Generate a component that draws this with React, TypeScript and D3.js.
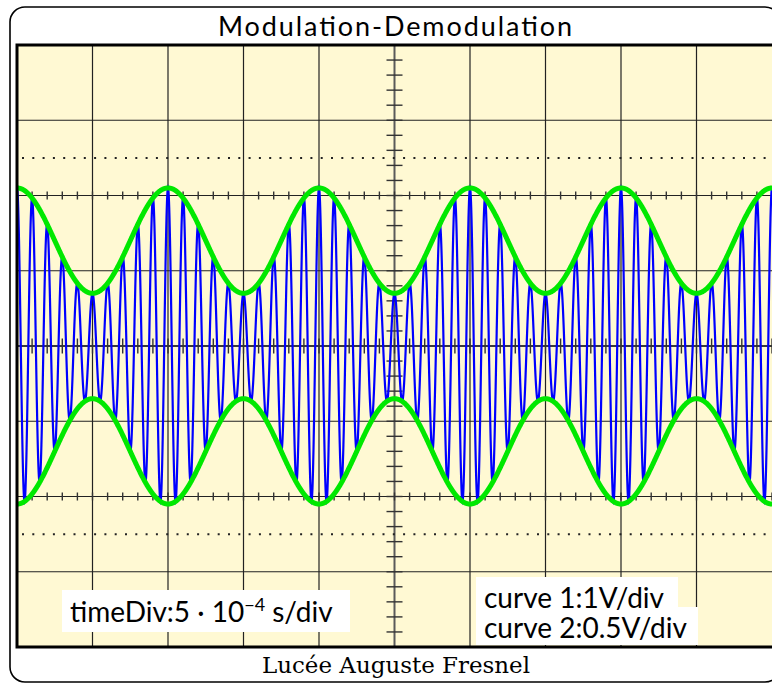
import React, { useEffect, useRef } from "react";
import * as d3 from "d3";

// ---- chart values ----
const title = ["Modulation-Demodulation"];
const footer = ["Lucée Auguste Fresnel"];
const timeDiv = [5e-4]; // s/div
const divisionsX = [10];
const divisionsY = [8];
const voltsPerDiv = [1, 0.5]; // curve 1, curve 2
const carrierAmplitude = [1.4]; // V
const modulationAmplitude = [0.7]; // V
const carrierFreq = [10000]; // Hz
const modulatingFreq = [1000]; // Hz
const infoLabels = ["curve 1:1V/div", "curve 2:0.5V/div"];

const W = 772;
const H = 684;
const PL = 17, PR = 772, PT = 45, PB = 647;

export default function App() {
  const ref = useRef<SVGSVGElement>(null);
  useEffect(() => {
    const svg = d3.select(ref.current);
    svg.selectAll("*").remove();
    const T = divisionsX[0] * timeDiv[0];
    const x = d3.scaleLinear().domain([0, T]).range([PL, PR]);
    const y1 = d3.scaleLinear().domain([-voltsPerDiv[0] * divisionsY[0] / 2, voltsPerDiv[0] * divisionsY[0] / 2]).range([PB, PT]);
    const y2 = d3.scaleLinear().domain([-voltsPerDiv[1] * divisionsY[0] / 2, voltsPerDiv[1] * divisionsY[0] / 2]).range([PB, PT]);
    const divX = (PR - PL) / divisionsX[0];
    const divY = (PB - PT) / divisionsY[0];
    const cx = x(T / 2);
    const cy = y1(0);

    // outer frame
    svg.append("rect").attr("x", 10).attr("y", 7).attr("width", 770).attr("height", 675)
      .attr("rx", 15).attr("ry", 15).attr("fill", "white").attr("stroke", "black").attr("stroke-width", 1.6);

    svg.append("text").attr("x", 218).attr("y", 36)
      .attr("font-family", "Lato, 'Open Sans', sans-serif").attr("font-size", 27).attr("fill", "black")
      .attr("textLength", 354).attr("lengthAdjust", "spacing")
      .text(title[0]);
    svg.append("text").attr("x", 262).attr("y", 673)
      .attr("font-family", "'DejaVu Serif', 'Liberation Serif', serif").attr("font-size", 22).attr("fill", "black")
      .attr("textLength", 268).attr("lengthAdjust", "spacingAndGlyphs")
      .text(footer[0]);

    const defs = svg.append("defs");
    defs.append("clipPath").attr("id", "plotclip").append("rect")
      .attr("x", PL).attr("y", PT).attr("width", PR - PL).attr("height", PB - PT);

    svg.append("rect").attr("x", PL).attr("y", PT).attr("width", PR - PL).attr("height", PB - PT)
      .attr("fill", "#FFF9D3");

    const g = svg.append("g").attr("clip-path", "url(#plotclip)");

    // grid
    const xTicks = d3.range(1, divisionsX[0]).map((i) => x((i * T) / divisionsX[0]));
    const yTicks = d3.range(1, divisionsY[0]).map((i) => PT + i * divY);
    g.selectAll("line.vx").data(xTicks).join("line")
      .attr("x1", (d) => d).attr("x2", (d) => d).attr("y1", PT).attr("y2", PB)
      .attr("stroke", (d, i) => (i === 4 ? "#5a5a5a" : "#222")).attr("stroke-width", (d, i) => (i === 4 ? 2 : 1.2));
    g.selectAll("line.hy").data(yTicks).join("line")
      .attr("x1", PL).attr("x2", PR).attr("y1", (d) => d).attr("y2", (d) => d)
      .attr("stroke", (d, i) => (i === 3 ? "#3a3a3a" : "#222")).attr("stroke-width", (d, i) => (i === 3 ? 1.8 : 1.2));

    // dotted lines at +-2.5 div
    [y1(2.5 * voltsPerDiv[0]), y1(-2.5 * voltsPerDiv[0])].forEach((yy) => {
      g.append("line").attr("x1", PL + 5).attr("x2", PR).attr("y1", yy).attr("y2", yy)
        .attr("stroke", "#222").attr("stroke-width", 2).attr("stroke-dasharray", "2 8.3");
    });

    // fine ticks every 0.2 div
    const sub = d3.range(0, divisionsX[0] * 5 + 1).map((i) => PL + (i * divX) / 5);
    g.selectAll("line.tc").data(sub).join("line")
      .attr("x1", (d) => d).attr("x2", (d) => d).attr("y1", cy - 7.5).attr("y2", cy + 7.5)
      .attr("stroke", "#333").attr("stroke-width", 1.4);
    [y1(2), y1(-2)].forEach((yy) => {
      g.append("g").selectAll("line").data(sub).join("line")
        .attr("x1", (d) => d).attr("x2", (d) => d).attr("y1", yy - 4).attr("y2", yy + 4)
        .attr("stroke", "#333").attr("stroke-width", 1.4);
    });
    const subY = d3.range(0, divisionsY[0] * 5 + 1).map((i) => PT + (i * divY) / 5);
    g.selectAll("line.ty").data(subY).join("line")
      .attr("x1", cx - 8).attr("x2", cx + 8).attr("y1", (d) => d).attr("y2", (d) => d)
      .attr("stroke", "#333").attr("stroke-width", 1.4);

    // curves
    const N = 3000;
    const ts = d3.range(0, N + 1).map((i) => (i * T) / N);
    const env = (t: number) => carrierAmplitude[0] + modulationAmplitude[0] * Math.cos(2 * Math.PI * modulatingFreq[0] * t);
    const am = ts.map((t) => [t, env(t) * Math.cos(2 * Math.PI * carrierFreq[0] * t)] as [number, number]);
    const upper = ts.map((t) => [t, env(t) / 2] as [number, number]);
    const lower = ts.map((t) => [t, -env(t) / 2] as [number, number]);

    const line1 = d3.line<[number, number]>().x((d) => x(d[0])).y((d) => y1(d[1]));
    const line2 = d3.line<[number, number]>().x((d) => x(d[0])).y((d) => y2(d[1]));
    g.append("path").attr("d", line1(am)).attr("fill", "none").attr("stroke", "#0000FF").attr("stroke-width", 2.2);
    g.append("path").attr("d", line2(upper)).attr("fill", "none").attr("stroke", "#00E800").attr("stroke-width", 5);
    g.append("path").attr("d", line2(lower)).attr("fill", "none").attr("stroke", "#00E800").attr("stroke-width", 5);

    // labels
    g.append("rect").attr("x", 62).attr("y", 590).attr("width", 288).attr("height", 42).attr("fill", "white");
    const tx = g.append("text").attr("x", 70).attr("y", 622)
      .attr("font-family", "Lato, 'Open Sans', sans-serif").attr("font-size", 28).attr("fill", "black");
    tx.append("tspan").text("timeDiv:5 · 10");
    tx.append("tspan").attr("dy", -11).attr("font-size", 18).text("−4");
    tx.append("tspan").attr("dy", 11).text(" s/div");

    g.append("rect").attr("x", 476).attr("y", 577).attr("width", 202).attr("height", 32).attr("fill", "white");
    g.append("rect").attr("x", 476).attr("y", 607).attr("width", 222).attr("height", 38).attr("fill", "white");
    g.selectAll("text.info").data(infoLabels).join("text")
      .attr("x", 484).attr("y", (d, i) => 608 + i * 30)
      .attr("font-family", "Lato, 'Open Sans', sans-serif").attr("font-size", 28).attr("fill", "black")
      .text((d) => d);

    // plot border
    svg.append("path").attr("d", `M${PR + 3},${PT} H${PL} V${PB} H${PR + 3}`)
      .attr("fill", "none").attr("stroke", "black").attr("stroke-width", 3);
  }, []);
  return (
    <svg ref={ref} width={W} height={H} style={{ position: "absolute", left: 0, top: 0, background: "white" }} />
  );
}
